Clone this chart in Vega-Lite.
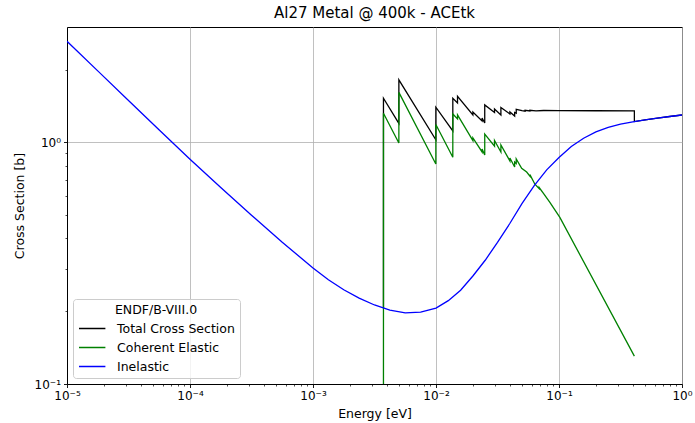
{
  "$schema": "https://vega.github.io/schema/vega-lite/v6.json",
  "width": 615,
  "height": 357,
  "autosize": {"type": "none"},
  "padding": {"left": 67, "top": 27, "right": 13, "bottom": 39},
  "title": {"text": "Al27 Metal @ 400k - ACEtk", "fontSize": 15, "fontWeight": "normal", "font": "DejaVu Sans", "color": "black", "anchor": "middle", "offset": 6},
  "data": {"values": [
    {"series": "Total Cross Section", "energy": 0.0037399, "xs": 0.2065},
    {"series": "Total Cross Section", "energy": 0.00374, "xs": 1.522},
    {"series": "Total Cross Section", "energy": 0.00499, "xs": 1.197},
    {"series": "Total Cross Section", "energy": 0.004991, "xs": 1.813},
    {"series": "Total Cross Section", "energy": 0.00997, "xs": 1.024},
    {"series": "Total Cross Section", "energy": 0.009971, "xs": 1.397},
    {"series": "Total Cross Section", "energy": 0.0137, "xs": 1.114},
    {"series": "Total Cross Section", "energy": 0.013701, "xs": 1.522},
    {"series": "Total Cross Section", "energy": 0.01496, "xs": 1.455},
    {"series": "Total Cross Section", "energy": 0.014961, "xs": 1.551},
    {"series": "Total Cross Section", "energy": 0.01995, "xs": 1.298},
    {"series": "Total Cross Section", "energy": 0.019951, "xs": 1.335},
    {"series": "Total Cross Section", "energy": 0.0237, "xs": 1.226},
    {"series": "Total Cross Section", "energy": 0.023701, "xs": 1.261},
    {"series": "Total Cross Section", "energy": 0.0249, "xs": 1.202},
    {"series": "Total Cross Section", "energy": 0.024901, "xs": 1.428},
    {"series": "Total Cross Section", "energy": 0.0299, "xs": 1.329},
    {"series": "Total Cross Section", "energy": 0.029901, "xs": 1.374},
    {"series": "Total Cross Section", "energy": 0.0337, "xs": 1.298},
    {"series": "Total Cross Section", "energy": 0.033701, "xs": 1.394},
    {"series": "Total Cross Section", "energy": 0.0399, "xs": 1.31},
    {"series": "Total Cross Section", "energy": 0.039901, "xs": 1.335},
    {"series": "Total Cross Section", "energy": 0.0436, "xs": 1.285},
    {"series": "Total Cross Section", "energy": 0.043601, "xs": 1.329},
    {"series": "Total Cross Section", "energy": 0.0449, "xs": 1.32},
    {"series": "Total Cross Section", "energy": 0.044901, "xs": 1.368},
    {"series": "Total Cross Section", "energy": 0.05, "xs": 1.352},
    {"series": "Total Cross Section", "energy": 0.053, "xs": 1.345},
    {"series": "Total Cross Section", "energy": 0.05301, "xs": 1.356},
    {"series": "Total Cross Section", "energy": 0.058, "xs": 1.348},
    {"series": "Total Cross Section", "energy": 0.05801, "xs": 1.357},
    {"series": "Total Cross Section", "energy": 0.065, "xs": 1.35},
    {"series": "Total Cross Section", "energy": 0.075, "xs": 1.354},
    {"series": "Total Cross Section", "energy": 0.1, "xs": 1.352},
    {"series": "Total Cross Section", "energy": 0.2, "xs": 1.351},
    {"series": "Total Cross Section", "energy": 0.41, "xs": 1.35},
    {"series": "Total Cross Section", "energy": 0.4101, "xs": 1.219},
    {"series": "Total Cross Section", "energy": 0.5012, "xs": 1.239},
    {"series": "Total Cross Section", "energy": 0.631, "xs": 1.26},
    {"series": "Total Cross Section", "energy": 0.7943, "xs": 1.279},
    {"series": "Total Cross Section", "energy": 1.0, "xs": 1.297},

    {"series": "Coherent Elastic", "energy": 0.0037399, "xs": 0.05},
    {"series": "Coherent Elastic", "energy": 0.00374, "xs": 1.319},
    {"series": "Coherent Elastic", "energy": 0.00499, "xs": 0.993},
    {"series": "Coherent Elastic", "energy": 0.004991, "xs": 1.609},
    {"series": "Coherent Elastic", "energy": 0.00997, "xs": 0.813},
    {"series": "Coherent Elastic", "energy": 0.009971, "xs": 1.185},
    {"series": "Coherent Elastic", "energy": 0.0137, "xs": 0.867},
    {"series": "Coherent Elastic", "energy": 0.013701, "xs": 1.31},
    {"series": "Coherent Elastic", "energy": 0.01496, "xs": 1.249},
    {"series": "Coherent Elastic", "energy": 0.014961, "xs": 1.298},
    {"series": "Coherent Elastic", "energy": 0.01995, "xs": 1.017},
    {"series": "Coherent Elastic", "energy": 0.019951, "xs": 1.042},
    {"series": "Coherent Elastic", "energy": 0.0237, "xs": 0.912},
    {"series": "Coherent Elastic", "energy": 0.023701, "xs": 0.938},
    {"series": "Coherent Elastic", "energy": 0.0249, "xs": 0.886},
    {"series": "Coherent Elastic", "energy": 0.024901, "xs": 1.082},
    {"series": "Coherent Elastic", "energy": 0.0299, "xs": 0.965},
    {"series": "Coherent Elastic", "energy": 0.029901, "xs": 1.017},
    {"series": "Coherent Elastic", "energy": 0.0337, "xs": 0.912},
    {"series": "Coherent Elastic", "energy": 0.033701, "xs": 0.975},
    {"series": "Coherent Elastic", "energy": 0.0399, "xs": 0.837},
    {"series": "Coherent Elastic", "energy": 0.039901, "xs": 0.861},
    {"series": "Coherent Elastic", "energy": 0.0436, "xs": 0.79},
    {"series": "Coherent Elastic", "energy": 0.043601, "xs": 0.829},
    {"series": "Coherent Elastic", "energy": 0.0449, "xs": 0.817},
    {"series": "Coherent Elastic", "energy": 0.044901, "xs": 0.853},
    {"series": "Coherent Elastic", "energy": 0.0497, "xs": 0.78},
    {"series": "Coherent Elastic", "energy": 0.0546, "xs": 0.753},
    {"series": "Coherent Elastic", "energy": 0.058, "xs": 0.725},
    {"series": "Coherent Elastic", "energy": 0.05801, "xs": 0.735},
    {"series": "Coherent Elastic", "energy": 0.0637, "xs": 0.671},
    {"series": "Coherent Elastic", "energy": 0.069, "xs": 0.643},
    {"series": "Coherent Elastic", "energy": 0.06901, "xs": 0.65},
    {"series": "Coherent Elastic", "energy": 0.0745, "xs": 0.616},
    {"series": "Coherent Elastic", "energy": 0.0843, "xs": 0.564},
    {"series": "Coherent Elastic", "energy": 0.1016, "xs": 0.489},
    {"series": "Coherent Elastic", "energy": 0.41, "xs": 0.1304},

    {"series": "Inelastic", "energy": 0.00001, "xs": 2.618},
    {"series": "Inelastic", "energy": 0.00001778, "xs": 1.975},
    {"series": "Inelastic", "energy": 0.00003162, "xs": 1.489},
    {"series": "Inelastic", "energy": 0.00005623, "xs": 1.125},
    {"series": "Inelastic", "energy": 0.0001, "xs": 0.851},
    {"series": "Inelastic", "energy": 0.0001778, "xs": 0.65},
    {"series": "Inelastic", "energy": 0.0003162, "xs": 0.499},
    {"series": "Inelastic", "energy": 0.0005623, "xs": 0.386},
    {"series": "Inelastic", "energy": 0.001, "xs": 0.302},
    {"series": "Inelastic", "energy": 0.001334, "xs": 0.27},
    {"series": "Inelastic", "energy": 0.001778, "xs": 0.2455},
    {"series": "Inelastic", "energy": 0.002371, "xs": 0.2265},
    {"series": "Inelastic", "energy": 0.003162, "xs": 0.2123},
    {"series": "Inelastic", "energy": 0.004217, "xs": 0.2023},
    {"series": "Inelastic", "energy": 0.005623, "xs": 0.1968},
    {"series": "Inelastic", "energy": 0.007499, "xs": 0.1982},
    {"series": "Inelastic", "energy": 0.01, "xs": 0.2061},
    {"series": "Inelastic", "energy": 0.01259, "xs": 0.2213},
    {"series": "Inelastic", "energy": 0.01585, "xs": 0.2443},
    {"series": "Inelastic", "energy": 0.01995, "xs": 0.2799},
    {"series": "Inelastic", "energy": 0.02512, "xs": 0.3251},
    {"series": "Inelastic", "energy": 0.03162, "xs": 0.3855},
    {"series": "Inelastic", "energy": 0.03981, "xs": 0.4613},
    {"series": "Inelastic", "energy": 0.05012, "xs": 0.5585},
    {"series": "Inelastic", "energy": 0.0631, "xs": 0.6637},
    {"series": "Inelastic", "energy": 0.07943, "xs": 0.7691},
    {"series": "Inelastic", "energy": 0.1, "xs": 0.865},
    {"series": "Inelastic", "energy": 0.1259, "xs": 0.9616},
    {"series": "Inelastic", "energy": 0.1585, "xs": 1.04},
    {"series": "Inelastic", "energy": 0.1995, "xs": 1.104},
    {"series": "Inelastic", "energy": 0.2512, "xs": 1.153},
    {"series": "Inelastic", "energy": 0.3162, "xs": 1.189},
    {"series": "Inelastic", "energy": 0.3981, "xs": 1.216},
    {"series": "Inelastic", "energy": 0.5012, "xs": 1.239},
    {"series": "Inelastic", "energy": 0.631, "xs": 1.26},
    {"series": "Inelastic", "energy": 0.7943, "xs": 1.279},
    {"series": "Inelastic", "energy": 1.0, "xs": 1.297}
  ]},
  "encoding": {
    "x": {
      "field": "energy", "type": "quantitative",
      "scale": {"type": "log", "domain": [0.00001, 1], "nice": false},
      "axis": {
        "title": "Energy [eV]",
        "values": [0.00001,0.00002,0.00003,0.00004,0.00005,0.00006,0.00007,0.00008,0.00009,0.0001,0.0002,0.0003,0.0004,0.0005,0.0006,0.0007,0.0008,0.0009,0.001,0.002,0.003,0.004,0.005,0.006,0.007,0.008,0.009,0.01,0.02,0.03,0.04,0.05,0.06,0.07,0.08,0.09,0.1,0.2,0.3,0.4,0.5,0.6,0.7,0.8,0.9,1],
        "labelExpr": "abs(log(datum.value)/LN10 - round(log(datum.value)/LN10)) > 0.001 ? '' : round(log(datum.value)/LN10) == 0 ? '10⁰' : round(log(datum.value)/LN10) == -1 ? '10⁻¹' : round(log(datum.value)/LN10) == -2 ? '10⁻²' : round(log(datum.value)/LN10) == -3 ? '10⁻³' : round(log(datum.value)/LN10) == -4 ? '10⁻⁴' : '10⁻⁵'",
        "tickSize": {"condition": {"test": "abs(log(datum.value)/LN10 - round(log(datum.value)/LN10)) < 0.001", "value": 3.5}, "value": 2},
        "tickWidth": {"condition": {"test": "abs(log(datum.value)/LN10 - round(log(datum.value)/LN10)) < 0.001", "value": 0.9}, "value": 0.7},
        "gridOpacity": {"condition": {"test": "abs(log(datum.value)/LN10 - round(log(datum.value)/LN10)) < 0.001", "value": 1}, "value": 0},
        "labelFlush": false,
        "labelOverlap": false,
        "labelBound": false,
        "labelPadding": 3,
        "titlePadding": 6
      }
    },
    "y": {
      "field": "xs", "type": "quantitative",
      "scale": {"type": "log", "domain": [0.1, 3.0], "nice": false},
      "axis": {
        "title": "Cross Section [b]",
        "values": [0.1,0.2,0.3,0.4,0.5,0.6,0.7,0.8,0.9,1,2],
        "labelExpr": "datum.value == 1 ? '10⁰' : datum.value == 0.1 ? '10⁻¹' : ''",
        "tickSize": {"condition": {"test": "datum.value == 1 || datum.value == 0.1", "value": 3.5}, "value": 2},
        "tickWidth": {"condition": {"test": "datum.value == 1 || datum.value == 0.1", "value": 0.9}, "value": 0.7},
        "gridOpacity": {"condition": {"test": "datum.value == 1 || datum.value == 0.1", "value": 1}, "value": 0},
        "labelOverlap": false,
        "labelBound": false,
        "labelFlush": false,
        "labelPadding": 3,
        "titlePadding": 8
      }
    },
    "color": {
      "field": "series", "type": "nominal",
      "scale": {"domain": ["Total Cross Section", "Coherent Elastic", "Inelastic"], "range": ["#000000", "#008000", "#0000ff"]},
      "legend": {
        "orient": "none", "legendX": 6, "legendY": 272,
        "title": "ENDF/B-VIII.0",
        "titleAnchor": "middle", "titleAlign": "center",
        "titleFontWeight": "normal", "titleFontSize": 12.5, "titleColor": "black",
        "titlePadding": 0,
        "labelFontSize": 12.5, "labelColor": "black",
        "symbolType": "M-1,0H1.4", "symbolSize": 484, "symbolStrokeWidth": 1.5,
        "labelOffset": 15, "rowPadding": 0, "padding": 5,
        "fillColor": "rgba(255,255,255,0.8)", "strokeColor": "#cccccc", "cornerRadius": 3
      }
    }
  },
  "layer": [
    {"transform": [{"filter": "datum.series == 'Total Cross Section'"}], "mark": {"type": "line", "strokeWidth": 1.3, "clip": true}},
    {"transform": [{"filter": "datum.series == 'Coherent Elastic'"}], "mark": {"type": "line", "strokeWidth": 1.3, "clip": true}},
    {"transform": [{"filter": "datum.series == 'Inelastic'"}], "mark": {"type": "line", "strokeWidth": 1.3, "clip": true}}
  ],
  "config": {
    "font": "DejaVu Sans",
    "view": {"stroke": "black", "strokeWidth": 1},
    "axis": {
      "domainColor": "black", "domainWidth": 1, "tickColor": "black",
      "labelColor": "black", "titleColor": "black",
      "labelFontSize": 12, "titleFontSize": 12.5, "titleFontWeight": "normal",
      "gridColor": "#b0b0b0", "gridWidth": 0.8
    }
  }
}
